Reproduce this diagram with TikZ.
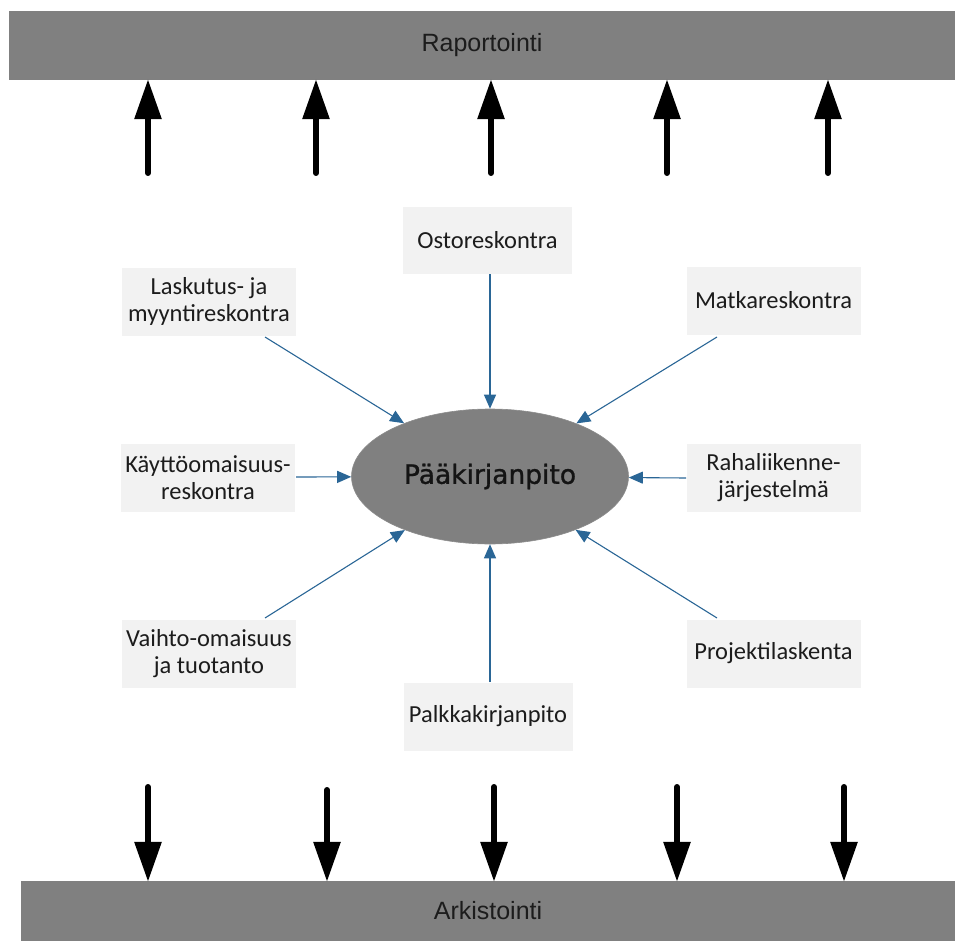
\documentclass[tikz,border=0pt]{standalone}
\usepackage{fontspec}
\usetikzlibrary{arrows.meta,shapes.geometric}
\newfontfamily\boxfont{Carlito}
\newfontfamily\barfont{Liberation Sans}
\newfontfamily\hubfont[FakeBold=1]{DejaVu Sans}
\definecolor{bargray}{HTML}{808080}
\definecolor{boxgray}{HTML}{F2F2F2}
\definecolor{flowblue}{HTML}{2A6696}
\definecolor{inkdark}{HTML}{1C1C1C}
\tikzset{
  bar/.style={fill=bargray, draw=none, inner sep=0pt, text=inkdark,
    font=\barfont\fontsize{25}{28}\selectfont},
  lbl/.style={fill=boxgray, draw=none, inner sep=0pt, align=center,
    minimum width=174pt, minimum height=68pt, text=inkdark,
    font=\boxfont\fontsize{24.5}{27}\selectfont},
  hub/.style={ellipse, fill=bargray, draw=gray!90, line width=0.6pt,
    minimum width=277pt, minimum height=135pt, inner sep=0pt, text=black!92,
    font=\hubfont\fontsize{26.5}{30}\selectfont},
  feed/.style={draw=flowblue, line width=1.1pt,
    -{Triangle[length=14pt,width=12pt]}},
  bigarrow/.style={draw=black, line width=6pt, line cap=round,
    -{Triangle[length=40pt,width=26pt]}, shorten >=-1pt},
}
\begin{document}
\begin{tikzpicture}[x=1pt,y=-1pt]
\useasboundingbox (0,0) rectangle (955,941);

% reporting and archiving bars
\node[bar, minimum width=946pt, minimum height=69pt] (rap) at (482,45.5) {Raportointi};
\node[bar, minimum width=934pt, minimum height=60pt] (ark) at (488,911) {Arkistointi};

% general ledger in the middle
\node[hub] (pk) at (490,476.5) {Pääkirjanpito};

% subledgers
\node[lbl, minimum width=169pt, minimum height=67pt] (ost) at (487.5,240.5) {Ostoreskontra};
\node[lbl] (las) at (209,301.5) {Laskutus- ja\\myyntireskontra};
\node[lbl] (mat) at (773.5,300.5) {Matkareskontra};
\node[lbl] (kay) at (208,477.5) {Käyttöomaisuus-\\reskontra};
\node[lbl] (rah) at (773.5,477.5) {Rahaliikenne-\\järjestelmä};
\node[lbl] (vai) at (209,654) {Vaihto-omaisuus\\ja tuotanto};
\node[lbl] (pro) at (773.5,653.5) {Projektilaskenta};
\node[lbl, minimum width=169pt] (pal) at (488,716.5) {Palkkakirjanpito};

% connector start points on the boxes
\coordinate (ost-o) at (490,274);
\coordinate (las-o) at (265,337);
\coordinate (mat-o) at (717,337);
\coordinate (kay-o) at (296,477);
\coordinate (rah-o) at (686,478);
\coordinate (vai-o) at (265,618);
\coordinate (pro-o) at (717,618);
\coordinate (pal-o) at (490,682);

\foreach \s in {ost,las,mat,kay,rah,vai,pro,pal}
  \draw[feed] (\s-o) -- (pk);

% flows up to reporting
\foreach \x in {148,316,491,667,828}{
  \coordinate (up\x) at (\x,173);
  \draw[bigarrow] (up\x) -- (up\x |- rap.south);
}

% flows down to archiving
\foreach \x/\y in {148/787,327/790,494/787,677/787,844/787}{
  \coordinate (dn\x) at (\x,\y);
  \draw[bigarrow] (dn\x) -- (dn\x |- ark.north);
}
\end{tikzpicture}
\end{document}
